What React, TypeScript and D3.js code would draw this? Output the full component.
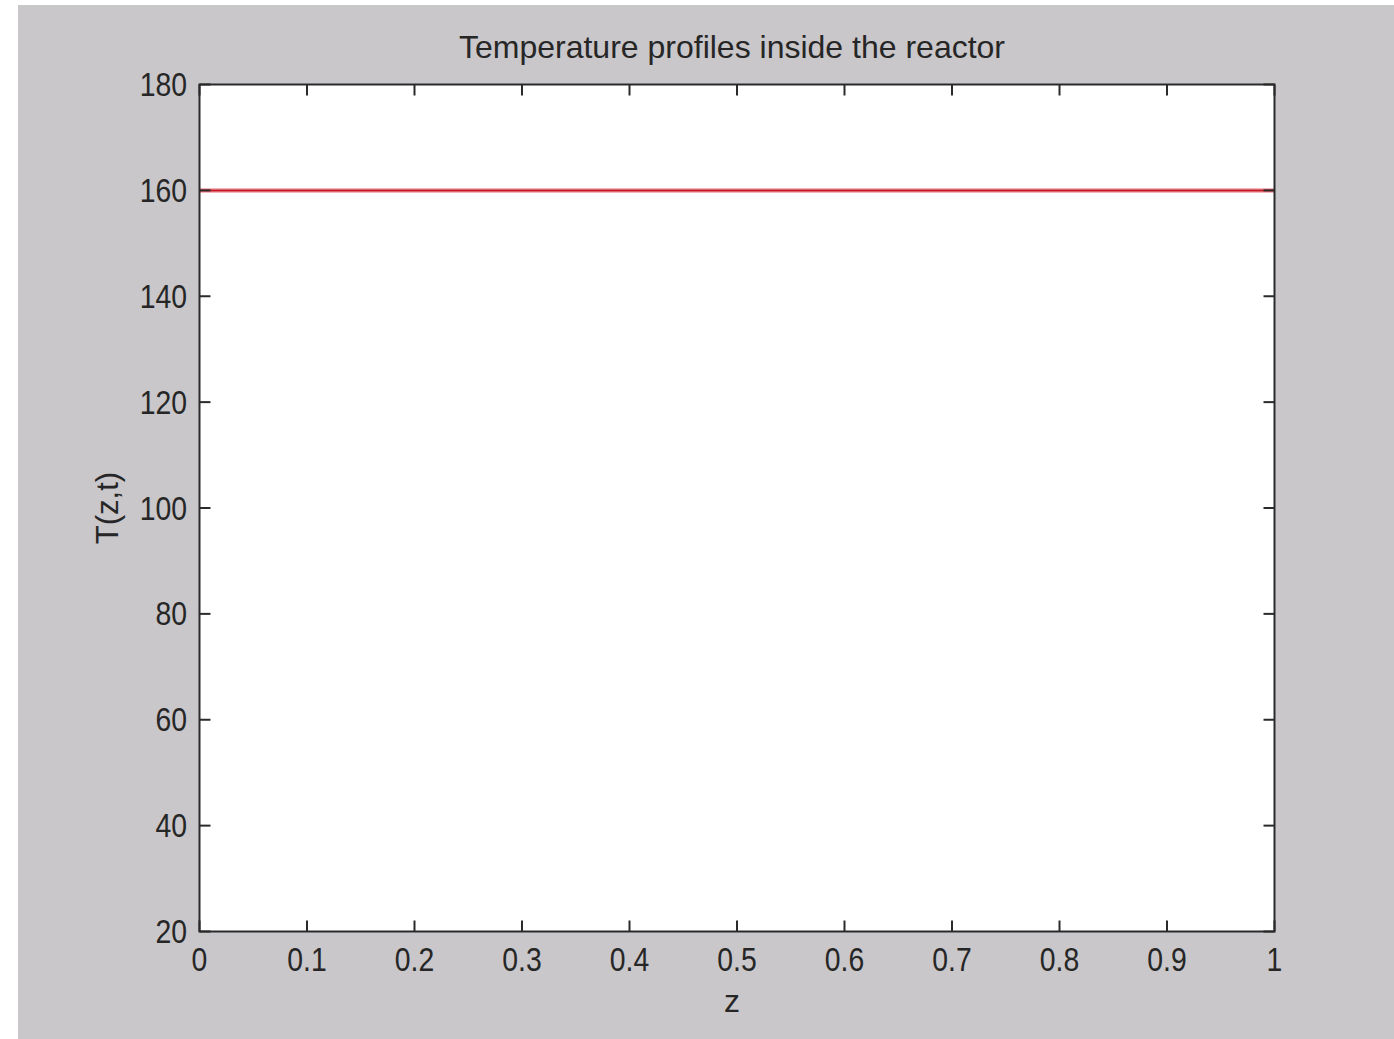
import React from "react";
import * as d3 from "d3";

// Temperature profile along the reactor axis
const zValues: number[] = [0, 0.1, 0.2, 0.3, 0.4, 0.5, 0.6, 0.7, 0.8, 0.9, 1];
const temperatureValues: number[] = [160, 160, 160, 160, 160, 160, 160, 160, 160, 160, 160];

const xTicks: number[] = [0, 0.1, 0.2, 0.3, 0.4, 0.5, 0.6, 0.7, 0.8, 0.9, 1];
const yTicks: number[] = [20, 40, 60, 80, 100, 120, 140, 160, 180];

const titleText = "Temperature profiles inside the reactor";
const xLabelText = "z";
const yLabelText = "T(z,t)";

const W = 1394;
const H = 1039;
const plot = { left: 199.5, right: 1274.5, top: 84.5, bottom: 931.5 };
const tickLen = 11;
const fontFamily = "'Liberation Sans', Arial, Helvetica, sans-serif";
const textColor = "#262626";
const axisColor = "#2a2a2a";
const tickFont = 33;
const tickSqueeze = 0.86;

export default function App() {
  const x = d3.scaleLinear().domain([0, 1]).range([plot.left, plot.right]);
  const y = d3.scaleLinear().domain([20, 180]).range([plot.bottom, plot.top]);

  const line = d3
    .line<number>()
    .x((_, i) => x(zValues[i]))
    .y((d) => y(d));

  const fmtX = (v: number) => (v === 0 || v === 1 ? String(v) : d3.format(".1f")(v));

  return (
    <div style={{ position: "absolute", left: 0, top: 0 }}>
      <svg width={W} height={H} style={{ display: "block" }}>
        <rect x={0} y={0} width={W} height={H} fill="#ffffff" />
        <rect x={18} y={5} width={W - 18} height={H - 5} fill="#c9c7ca" />
        <rect
          x={plot.left}
          y={plot.top}
          width={plot.right - plot.left}
          height={plot.bottom - plot.top}
          fill="#ffffff"
        />

        {/* profile */}
        <path d={line(temperatureValues) || ""} fill="none" stroke="#f3b5bd" strokeWidth={5} />
        <path d={line(temperatureValues) || ""} fill="none" stroke="#c4161f" strokeWidth={2} />

        {/* box */}
        <rect
          x={plot.left}
          y={plot.top}
          width={plot.right - plot.left}
          height={plot.bottom - plot.top}
          fill="none"
          stroke={axisColor}
          strokeWidth={2}
        />

        {/* x ticks, bottom and top */}
        {xTicks.map((t) => (
          <g key={"xt" + t}>
            <line x1={x(t)} x2={x(t)} y1={plot.bottom} y2={plot.bottom - tickLen} stroke={axisColor} strokeWidth={2} />
            <line x1={x(t)} x2={x(t)} y1={plot.top} y2={plot.top + tickLen} stroke={axisColor} strokeWidth={2} />
            <text
              transform={`translate(${x(t)}, 971) scale(${tickSqueeze}, 1)`}
              textAnchor="middle"
              fontFamily={fontFamily}
              fontSize={tickFont}
              fill={textColor}
            >
              {fmtX(t)}
            </text>
          </g>
        ))}

        {/* y ticks, left and right */}
        {yTicks.map((t) => (
          <g key={"yt" + t}>
            <line x1={plot.left} x2={plot.left + tickLen} y1={y(t)} y2={y(t)} stroke={axisColor} strokeWidth={2} />
            <line x1={plot.right} x2={plot.right - tickLen} y1={y(t)} y2={y(t)} stroke={axisColor} strokeWidth={2} />
            <text
              transform={`translate(187, ${y(t)}) scale(${tickSqueeze}, 1)`}
              dy="0.35em"
              textAnchor="end"
              fontFamily={fontFamily}
              fontSize={tickFont}
              fill={textColor}
            >
              {t}
            </text>
          </g>
        ))}

        <text
          x={(plot.left + plot.right) / 2 - 5}
          y={58}
          textAnchor="middle"
          fontFamily={fontFamily}
          fontSize={32}
          fill={textColor}
        >
          {titleText}
        </text>
        <text
          x={(plot.left + plot.right) / 2 - 5}
          y={1012}
          textAnchor="middle"
          fontFamily={fontFamily}
          fontSize={32}
          fill={textColor}
        >
          {xLabelText}
        </text>
        <text
          transform={`translate(118, ${508}) rotate(-90)`}
          textAnchor="middle"
          fontFamily={fontFamily}
          fontSize={31}
          fill={textColor}
        >
          {yLabelText}
        </text>
      </svg>
    </div>
  );
}
